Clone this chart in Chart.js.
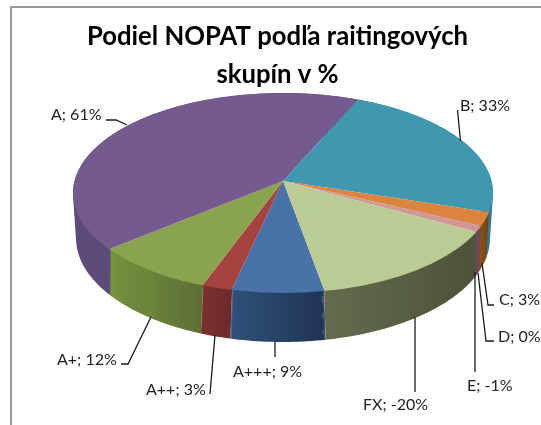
<!DOCTYPE html>
<html>
<head>
<meta charset="utf-8">
<style>html,body{margin:0;padding:0;background:#fff}canvas{display:block}</style>
<script src="https://cdn.jsdelivr.net/npm/chart.js@4"></script>
</head>
<body>
<canvas id="c" width="541" height="425"></canvas>
<script>
// Data
const categories = ['A+++', 'A++', 'A+', 'A', 'B', 'C', 'D', 'E', 'FX'];
const nopatShare = [9.49, 3.1, 12.2, 60.5, 32.5, 3, 0.04, -1.3, -20.4];
const chartTitle = ['Podiel NOPAT podľa raitingových', 'skupín v %'];

// Styles
const topColors = ['#4872a8', '#a4433f', '#8aa44d', '#755a90', '#3f97b0', '#db843e', '#2c4d75', '#d09794', '#bacb95'];
const wallColors = [
  ['#2f5078', '#1f3557'], ['#7a302e', '#6d2b2b'], ['#76913f', '#5c7035'],
  ['#5c4a78', '#62507e'], ['#2e7a92', '#2e7a92'], ['#8a5018', '#6e4212'],
  ['#5a4a5a', '#5a4a5a'], ['#6a4a55', '#6a4a55'], ['#626c4d', '#4d5238']
];
// Projection of the pie disc: perspective moves the apex above the rim ellipse's centre.
const topRim = {cx: 283, cy: 193, rx: 210, ry: 100, ax: 283, ay: 181};
const baseRim = {cx: 283, cy: 238, rx: 207, ry: 104, ax: 283, ay: 226};
const squash = 0.5;
const wallBands = 48;
const wallStroke = 2;
// Data-label layout: [text x, baseline y, leader polyline]
const labelLayout = [
  [233, 377, [[275, 342], [275, 357]]],
  [146, 395, [[215, 335], [210, 394]]],
  [57, 365, [[151, 317], [128, 364], [121, 364]]],
  [51, 120, [[127, 125], [116, 120], [106, 120]]],
  [460, 111, [[460.5, 141], [457.5, 110]]],
  [499, 305, [[482, 263], [488, 305], [494, 305]]],
  [498, 342, [[478, 273], [486, 341], [494, 341]]],
  [467, 391, [[475, 272], [475, 372]]],
  [363, 410, [[415, 317], [415, 392]]]
];

function lerpRim(t) {
  const r = {};
  for (const k in topRim) r[k] = topRim[k] + (baseRim[k] - topRim[k]) * t;
  r.rx -= wallStroke / 2;
  r.ry -= wallStroke / 2;
  return r;
}
function rimPoint(r, angle) {
  const dx = Math.cos(angle), dy = Math.sin(angle) * squash;
  const ox = (r.ax - r.cx) / r.rx, oy = (r.ay - r.cy) / r.ry;
  const ux = dx / r.rx, uy = dy / r.ry;
  const a = ux * ux + uy * uy, b = 2 * (ox * ux + oy * uy), c = ox * ox + oy * oy - 1;
  const t = (-b + Math.sqrt(b * b - 4 * a * c)) / (2 * a);
  return [r.ax + t * dx, r.ay + t * dy];
}

const pie3d = {
  id: 'pie3d',
  beforeDraw(chart) {
    const ctx = chart.ctx;
    ctx.save();
    ctx.strokeStyle = '#9a9a9a';
    ctx.lineWidth = 2;
    ctx.beginPath();
    ctx.moveTo(545, 7);
    ctx.lineTo(11, 7);
    ctx.lineTo(11, 430);
    ctx.stroke();
    ctx.restore();
  },
  beforeDatasetsDraw(chart) {
    const ctx = chart.ctx;
    chart.getDatasetMeta(0).data.forEach((arc, i) => {
      const {startAngle, endAngle} = arc.getProps(['startAngle', 'endAngle'], true);
      const n = Math.max(2, Math.ceil((endAngle - startAngle) / 0.02));
      const sweep = [];
      for (let k = 0; k <= n; k++) sweep.push(startAngle + (endAngle - startAngle) * k / n);
      let lo = Infinity, hi = -Infinity;
      sweep.forEach(th => {
        const x = rimPoint(topRim, th)[0];
        lo = Math.min(lo, x); hi = Math.max(hi, x);
      });
      const g = ctx.createLinearGradient(lo, 0, hi + 0.01, 0);
      g.addColorStop(0, wallColors[i][0]);
      g.addColorStop(1, wallColors[i][1]);
      ctx.save();
      ctx.strokeStyle = g;
      ctx.lineWidth = wallStroke;
      ctx.lineCap = 'butt';
      ctx.lineJoin = 'round';
      ctx.beginPath();
      // All rim curves go into one stroked path, so the wall has no seams.
      for (let b = 0; b <= wallBands; b++) {
        const r = lerpRim(b / wallBands);
        sweep.forEach((th, k) => {
          const p = rimPoint(r, th);
          k ? ctx.lineTo(p[0], p[1]) : ctx.moveTo(p[0], p[1]);
        });
      }
      ctx.stroke();
      ctx.restore();
    });
  },
  beforeDatasetDraw(chart) {
    const ctx = chart.ctx;
    const arc = chart.getDatasetMeta(0).data[0];
    const s = 320 / arc.outerRadius;
    ctx.save();
    ctx.beginPath();
    ctx.ellipse(topRim.cx, topRim.cy, topRim.rx, topRim.ry, 0, 0, Math.PI * 2);
    ctx.clip();
    ctx.translate(topRim.ax, topRim.ay);
    ctx.scale(s, s * squash);
    ctx.translate(-arc.x, -arc.y);
  },
  afterDatasetDraw(chart) {
    chart.ctx.restore();
  },
  afterDatasetsDraw(chart) {
    const ctx = chart.ctx;
    ctx.save();
    ctx.font = '16px Lato';
    ctx.textBaseline = 'alphabetic';
    categories.forEach((name, i) => {
      const [x, y, line] = labelLayout[i];
      ctx.strokeStyle = '#1a1a1a';
      ctx.lineWidth = 1.3;
      ctx.beginPath();
      line.forEach((p, k) => k ? ctx.lineTo(p[0], p[1]) : ctx.moveTo(p[0], p[1]));
      ctx.stroke();
      ctx.fillStyle = '#222';
      ctx.fillText(name + '; ' + Math.round(nopatShare[i]) + '%', x, y);
    });
    ctx.restore();
  }
};

new Chart(document.getElementById('c'), {
  type: 'pie',
  data: {
    labels: categories,
    datasets: [{
      data: nopatShare,
      backgroundColor: topColors,
      borderWidth: 0,
      clip: false
    }]
  },
  options: {
    responsive: false,
    animation: false,
    rotation: 169.3,
    events: [],
    layout: {padding: {left: 14}},
    plugins: {
      legend: {display: false},
      tooltip: {enabled: false},
      title: {
        display: true,
        text: chartTitle,
        color: '#000',
        font: {family: 'Lato', size: 25.7, weight: 'bold', lineHeight: 1.46},
        padding: {top: 18, bottom: 10}
      }
    }
  },
  plugins: [pie3d]
});
</script>
</body>
</html>
